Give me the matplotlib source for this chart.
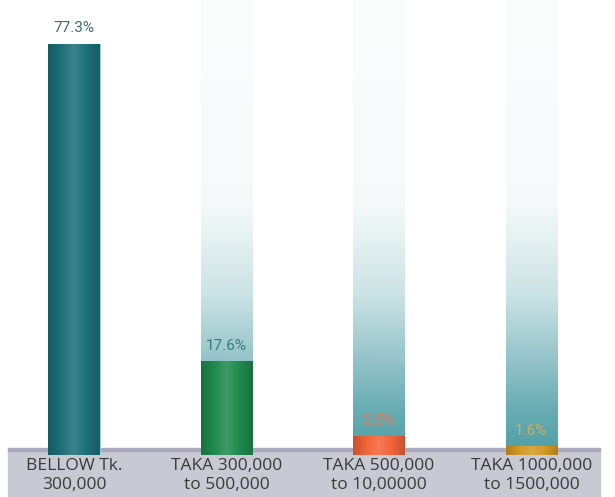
import matplotlib.pyplot as plt
import numpy as np
from matplotlib.colors import LinearSegmentedColormap, to_rgb
from matplotlib.patches import Rectangle

plt.rcParams['font.family'] = ['Open Sans', 'DejaVu Sans']

categories = ['BELLOW Tk.\n300,000', 'TAKA 300,000\nto 500,000',
              'TAKA 500,000\nto 10,00000', 'TAKA 1000,000\nto 1500,000']
shares = [77.3, 17.6, 3.5, 1.6]
bar_colors = ['#1d6f78', '#1f8a4e', '#f2643a', '#d49a22']
label_colors = ['#3d6c72', '#2f7f78', '#e07a5a', '#c8b060']

fig = plt.figure(figsize=(6.15, 4.97), dpi=100)
ax = fig.add_axes([0, 0.0845, 1, 0.9155])
ax.set_zorder(2)
ax.patch.set_visible(False)
ymax = 85.5
ax.set_xlim(-0.485, 3.548)
ax.set_ylim(0, ymax)
ax.axis('off')

width = 0.34
x = np.arange(len(shares))

# faded track behind each bar
track_rgb = np.array(to_rgb('#2f8c96'))
ys = np.linspace(0, 1, 256)
alpha = np.interp(ys, [0.0, 0.1, 0.35, 0.55, 1.0], [0.85, 0.72, 0.25, 0.05, 0.02])
track = np.zeros((256, 1, 4))
track[:, 0, :3] = track_rgb
track[:, 0, 3] = alpha
for xi in x[1:]:
    ax.imshow(track, extent=(xi - width / 2, xi + width / 2, 0, ymax),
              origin='lower', aspect='auto', zorder=1, interpolation='bilinear')

# bars with a soft, cylinder-like shading
shade = np.linspace(0, 1, 100).reshape(1, -1)
for xi, v, c, lc in zip(x, shares, bar_colors, label_colors):
    base = np.array(to_rgb(c))
    dark = base * 0.82
    light = np.clip(base + (1 - base) * 0.14, 0, 1)
    cmap = LinearSegmentedColormap.from_list('cyl', [dark, base, light, base, dark])
    bar = ax.bar(xi, v, width=width, color=c, zorder=2,
                 edgecolor='#8fdada' if xi == 0 else 'none', linewidth=0.8)[0]
    im = ax.imshow(shade, cmap=cmap, extent=(xi - width / 2, xi + width / 2, 0, v),
                   aspect='auto', zorder=3, interpolation='bilinear')
    im.set_clip_path(bar)
    ax.text(xi, v + 1.6, f'{v}%', ha='center', va='bottom', fontsize=11,
            color=lc, zorder=4, family=['Roboto', 'DejaVu Sans'])

# label strip along the bottom
fig.patches.append(Rectangle((8 / 615, 0), 592 / 615, 48 / 497,
                             transform=fig.transFigure, color='#c9c9d4', zorder=0))
fig.patches.append(Rectangle((8 / 615, 46 / 497), 592 / 615, 3 / 497,
                             transform=fig.transFigure, color='#aaaabf', zorder=0))

for xi, name in zip(x, categories):
    ax.text(xi, -0.6, name, ha='center', va='top', fontsize=12.5,
            color='#3a3a3a', linespacing=1.2, clip_on=False)

fig.savefig('out.png', dpi=100)
